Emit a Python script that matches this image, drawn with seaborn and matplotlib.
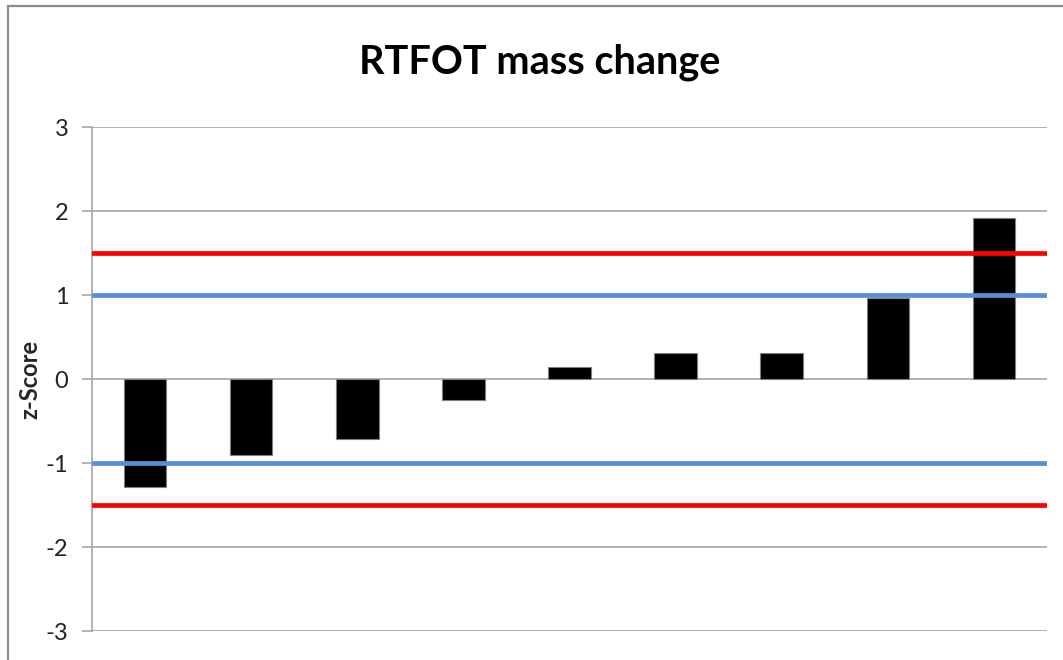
import matplotlib
matplotlib.use("Agg")
import matplotlib.pyplot as plt
import seaborn as sns
import pandas as pd
from matplotlib.patches import Rectangle

# Data
labs = ["L1", "L2", "L3", "L4", "L5", "L6", "L7", "L8", "L9"]
z_scores = [-1.29, -0.90, -0.72, -0.255, 0.14, 0.31, 0.31, 0.96, 1.92]
warning_limits = [1.0, -1.0]
action_limits = [1.5, -1.5]
y_ticks = [-3, -2, -1, 0, 1, 2, 3]

sns.set_theme(style="white")
plt.rcParams['font.family'] = ['Lato', 'DejaVu Sans']

df = pd.DataFrame({"lab": labs, "z": z_scores})

fig = plt.figure(figsize=(10.63, 6.60), dpi=100)
ax = fig.add_axes([92 / 1063, 1 - 631 / 660, (1047 - 92) / 1063, (631 - 127) / 660])

# outer frame of the chart area
fig.patches.append(Rectangle((8 / 1063, -0.1), 1.2, (660 - 6) / 660 + 0.1,
                             transform=fig.transFigure, fill=False,
                             edgecolor="#8c8c8c", linewidth=1.6, zorder=0))

sns.barplot(data=df, x="lab", y="z", order=labs, color="black", width=0.4,
            edgecolor="#7f7f7f", linewidth=0.8, saturation=1, ax=ax, zorder=3)

for v in warning_limits:
    ax.axhline(v, color="#5a8fd6", linewidth=3.4, zorder=4)
for v in action_limits:
    ax.axhline(v, color="#ff0000", linewidth=3.4, zorder=4)

ax.set_ylim(-3, 3)
ax.set_xlim(-0.5, len(labs) - 0.5)
ax.set_yticks(y_ticks)
ax.set_yticklabels([str(t) for t in y_ticks], fontsize=17, color="#222222")
ax.set_xticks([])
ax.set_xlabel("")
ax.set_ylabel("z-Score", fontsize=17, fontweight="bold")
ax.yaxis.set_label_coords((30 - 92) / 955, 0.5)
ax.yaxis.label.set_va("center")
ax.yaxis.grid(True, color="#a6a6a6", linewidth=1.2, zorder=0)
ax.set_axisbelow(True)
for s in ["top", "right", "bottom"]:
    ax.spines[s].set_visible(False)
ax.spines["left"].set_color("#a6a6a6")
ax.spines["left"].set_linewidth(1.2)
ax.tick_params(axis="y", left=True, length=7, width=1.2, color="#a6a6a6", pad=10)

fig.text(0.508, 1 - 62 / 660, "RTFOT mass change", ha="center", va="center",
         fontsize=28.5, fontweight="bold", color="black")

fig.savefig("out.png", dpi=100, facecolor="white")
